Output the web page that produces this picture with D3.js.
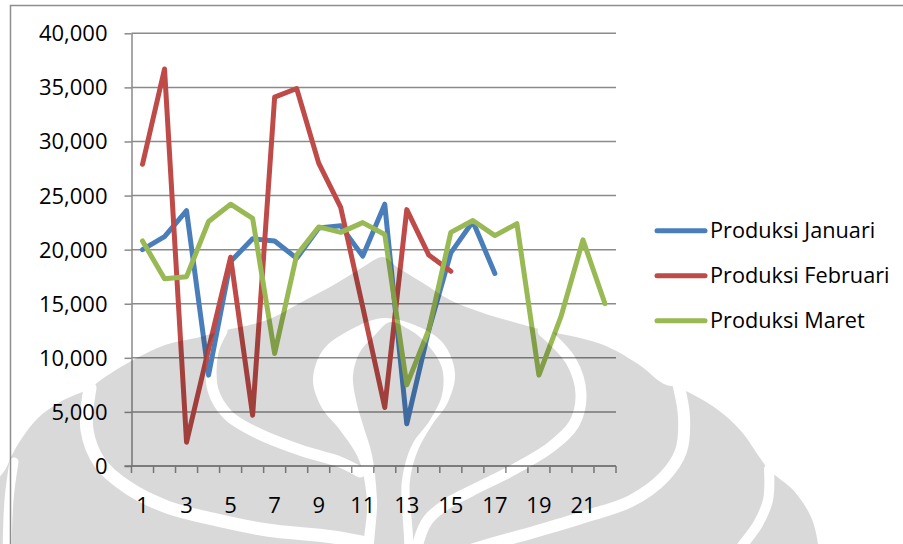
<!DOCTYPE html>
<html><head><meta charset="utf-8">
<script src="https://cdn.jsdelivr.net/npm/d3@7"></script>
<style>
html,body{margin:0;padding:0;background:#fff;}
svg{display:block;font-family:"Open Sans",sans-serif;}
</style>
</head><body>
<svg id="c" width="903" height="544"></svg>
<script>
// ---- data ----
const categories = ["1","2","3","4","5","6","7","8","9","10","11","12","13","14","15","16","17","18","19","20","21","22"];
const seriesNames = ["Produksi Januari","Produksi Februari","Produksi Maret"];
const januari  = [20000,21200,23600,8400,18900,21000,20800,19200,22000,22200,19400,24200,3900,12600,19700,22600,17800];
const februari = [27900,36700,2200,10800,19300,4700,34100,34900,28000,23900,14700,5400,23700,19500,18000];
const maret    = [20800,17300,17500,22600,24200,22900,10400,19500,22100,21600,22500,21400,7500,12600,21600,22700,21300,22400,8400,13800,20900,15000];
const yTickValues = [0,5000,10000,15000,20000,25000,30000,35000,40000];
const xTickLabels = ["1","3","5","7","9","11","13","15","17","19","21"];
const colors = ["#4A7EBB","#BE4B48","#98B954"];

const svg = d3.select("#c");
const x = d3.scaleBand().domain(categories).range([131.5, 616]).padding(0);
const y = d3.scaleLinear().domain([0, 40000]).range([466, 33.3]);
const gridColor = "#8a8a8a";

// chart border
svg.append("rect").attr("x",10.5).attr("y",5.5).attr("width",1000).attr("height",1000)
  .attr("fill","#fff").attr("stroke","#8e8e8e").attr("stroke-width",1.5);

// gridlines
svg.append("g").selectAll("line").data(yTickValues).join("line")
  .attr("x1",131.5).attr("x2",616).attr("y1",d=>y(d)).attr("y2",d=>y(d))
  .attr("stroke",gridColor).attr("stroke-width",1.5);

// y axis
const yAxis = d3.axisLeft(y).tickValues(yTickValues).tickFormat(d3.format(",")).tickSize(7).tickSizeOuter(0).tickPadding(17);
const gy = svg.append("g").attr("transform","translate(131.5,0)").call(yAxis);
gy.select(".domain").attr("stroke",gridColor).attr("stroke-width",1.5);
gy.selectAll(".tick line").attr("stroke",gridColor).attr("stroke-width",1.5);
gy.selectAll("text").attr("font-size",22).attr("fill","#000").attr("font-family","Open Sans").attr("dy","0.34em");

// x axis
const xAxis = d3.axisBottom(x).tickSize(0).tickPadding(0).tickFormat(d => xTickLabels.includes(d) ? d : "");
const gx = svg.append("g").attr("transform","translate(0,466)").call(xAxis);
gx.select(".domain").remove();
gx.selectAll("text").attr("y",47).attr("dy",0).attr("font-size",22).attr("fill","#000").attr("font-family","Open Sans");
const boundaries = categories.map(c => x(c)).concat([x.range()[1]]);
svg.append("g").selectAll("line").data(boundaries).join("line")
  .attr("x1",d=>d).attr("x2",d=>d).attr("y1",466).attr("y2",473)
  .attr("stroke",gridColor).attr("stroke-width",1.5);
svg.append("line").attr("x1",124.5).attr("x2",616).attr("y1",y(0)).attr("y2",y(0))
  .attr("stroke",gridColor).attr("stroke-width",1.5);

// series lines
const line = d3.line().x((d,i)=>x(categories[i]) + x.bandwidth()/2).y(d=>y(d));
[januari, februari, maret].forEach((s,k)=>{
  svg.append("path").datum(s).attr("d",line).attr("fill","none")
    .attr("stroke",colors[k]).attr("stroke-width",5)
    .attr("stroke-linejoin","round").attr("stroke-linecap","round");
});

// legend
const lg = svg.append("g");
seriesNames.forEach((n,k)=>{
  const ly = 230.7 + k*45;
  lg.append("line").attr("x1",657).attr("x2",705).attr("y1",ly).attr("y2",ly)
    .attr("stroke",colors[k]).attr("stroke-width",5).attr("stroke-linecap","round");
  lg.append("text").attr("x",710).attr("y",ly+7.5).text(n)
    .attr("font-size",21.7).attr("fill","#000").attr("font-family","Open Sans");
});

// ---- watermark (decorative background logo, absolute page coordinates) ----
const smooth = d3.line().curve(d3.curveCatmullRom.alpha(0.5));
const closed = d3.line().curve(d3.curveCatmullRomClosed.alpha(0.5));
const outlineRight = [[383,257],[397,267],[423,283],[450,300],[483,313],[517,323],[543,330],[601,344],[638,364],[664,384],[679,388],[714,407],[741,431],[760,458],[769,470],[794,491],[811,517],[818,544],[821,600]];
const outlineLeft  = [[-40,600],[-25,544],[-10,490],[5,470],[12,455],[22,438],[38,418],[60,402],[90,388],[105,377],[133,360],[165,345],[200,337],[222,331],[267,320],[300,303],[337,283],[363,267]];
const outline = outlineRight.concat(outlineLeft);
const cuts = [
  [[543,331],[571,361],[581,394],[574,424],[551,447],[511,471],[471,491],[445,505],[428,520],[419,540],[416,560]],
  [[679,387],[684,417],[681,451],[664,477],[631,501],[584,517],[534,532],[484,546],[440,560]],
  [[769,469],[768,500],[758,524],[742,546],[728,565]],
  [[222,331],[213,352],[213,390],[228,415],[255,432],[300,450],[340,462],[360,472]],
  [[90,388],[87,430],[100,463],[127,487],[167,507],[217,520],[267,530],[333,537],[390,548]],
  [[14,462],[9,500],[7,560]]
];
const cutWidths = [11,12,10,11,13,9];
const onion = [[383,318],[417,326],[443,343],[455,373],[448,402],[432,425],[418,450],[410,480],[408,570],[367,570],[367,500],[359,460],[340,430],[322,408],[313,380],[323,350],[350,330]];
const tear  = [[390,322],[410,330],[428,345],[442,368],[442,395],[430,420],[412,445],[402,480],[400,570],[377,570],[377,500],[372,455],[363,425],[356,400],[353,375],[360,352],[375,335]];
const mask = svg.append("defs").append("mask").attr("id","wm").attr("maskUnits","userSpaceOnUse")
  .attr("x",0).attr("y",0).attr("width",903).attr("height",544);
mask.append("path").attr("d", closed(outline)).attr("fill","#fff");
cuts.forEach((c,i)=>{
  mask.append("path").attr("d", smooth(c)).attr("fill","none")
    .attr("stroke","#000").attr("stroke-width",cutWidths[i]).attr("stroke-linecap","round");
});
mask.append("path").attr("d", closed(onion)).attr("fill","#000");
mask.append("path").attr("d", closed(tear)).attr("fill","#fff");
svg.append("rect").attr("x",0).attr("y",0).attr("width",903).attr("height",544)
  .attr("fill","#000").attr("fill-opacity",0.15).attr("mask","url(#wm)");
</script>
</body></html>
